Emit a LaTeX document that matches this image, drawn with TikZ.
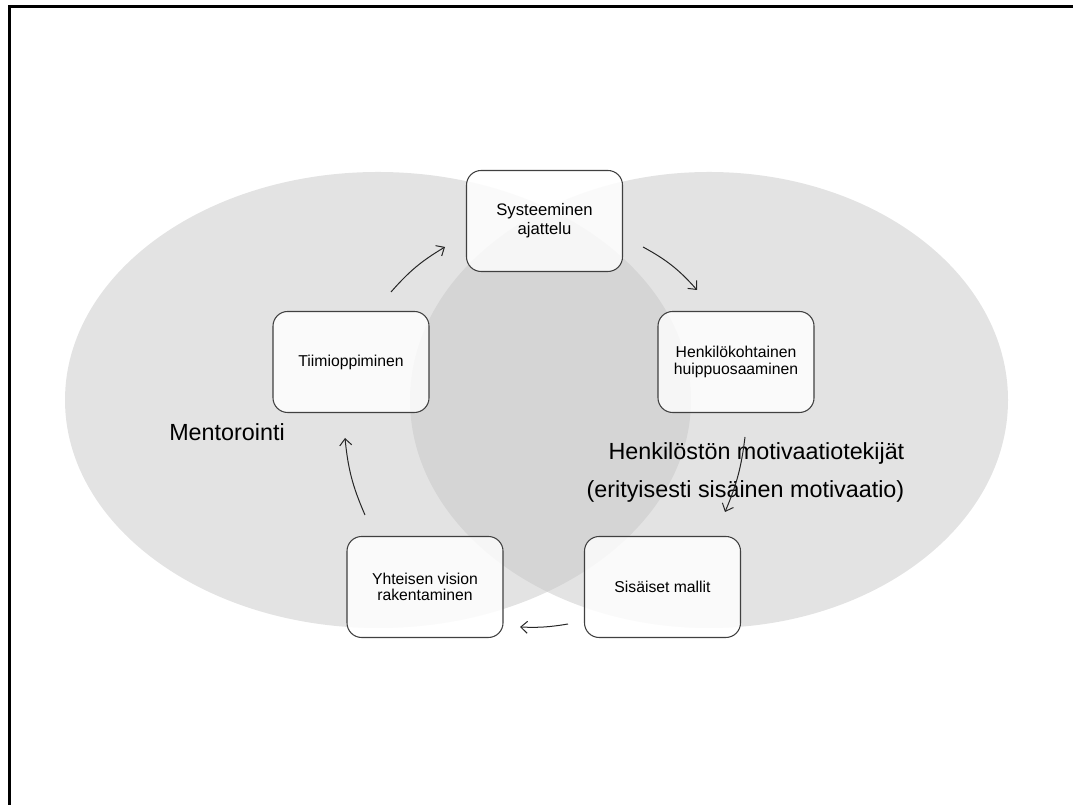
\documentclass[tikz,border=0pt]{standalone}
\usepackage{fontspec}
\setmainfont{Liberation Sans}
\usetikzlibrary{arrows.meta}
\begin{document}
\begin{tikzpicture}[x=0.75pt,y=0.75pt,
  cyclebox/.style={draw=black!75, line width=0.8pt, fill=white, fill opacity=0.82, text opacity=1,
    rounded corners=11pt, minimum width=117pt, minimum height=75.75pt, inner sep=2pt,
    align=center, font=\fontsize{11.8}{12.5}\selectfont},
  blob/.style={fill=black!22, fill opacity=0.5},
  flow/.style={draw=black!85, line width=0.75pt, -{Straight Barb[length=5pt,width=9pt]}},
  biglabel/.style={font=\fontsize{17.5}{28.5}\selectfont}]
\useasboundingbox (0,0) rectangle (1073,805);
% frame
\draw[line width=1.7pt] (9.5,0) -- (9.5,798.5) -- (1073,798.5);
% ellipses
\fill[blob] (378,405) ellipse [x radius=234.75pt, y radius=171pt];
\fill[blob] (709,405) ellipse [x radius=224.25pt, y radius=171pt];
% boxes
\node[cyclebox, font=\fontsize{12.5}{14}\selectfont] (syst) at (544.5,584) {Systeeminen\\ajattelu};
\node[cyclebox] (henk) at (736,443) {Henkilökohtainen\\huippuosaaminen};
\node[cyclebox] (sis) at (662.5,218) {Sisäiset mallit};
\node[cyclebox] (yht) at (425,218) {Yhteisen vision\\rakentaminen};
\node[cyclebox] (tiimi) at (351,443) {Tiimioppiminen};
% labels
\node[biglabel] (mentor) at (227,373) {Mentorointi};
\node[biglabel, align=right, anchor=east] (motiv) at (909,333) {Henkilöstön motivaatiotekijät\\(erityisesti sisäinen motivaatio)};
% arrow ends
\coordinate (a1s) at (391,513); \coordinate (a1e) at (445,558);
\coordinate (a2s) at (643,558); \coordinate (a2e) at (697,515);
\coordinate (a3s) at (745,368); \coordinate (a3e) at (725,293);
\coordinate (a4s) at (568,181); \coordinate (a4e) at (520,178);
\coordinate (a5s) at (365,290); \coordinate (a5e) at (345,367);
\draw[flow] (a1s) to[bend left=9] (a1e);
\draw[flow] (a2s) to[bend left=10] (a2e);
\draw[flow] (a3s) to[bend left=8] (a3e);
\draw[flow] (a4s) to[bend left=6] (a4e);
\draw[flow] (a5s) to[bend left=9] (a5e);
\end{tikzpicture}
\end{document}
